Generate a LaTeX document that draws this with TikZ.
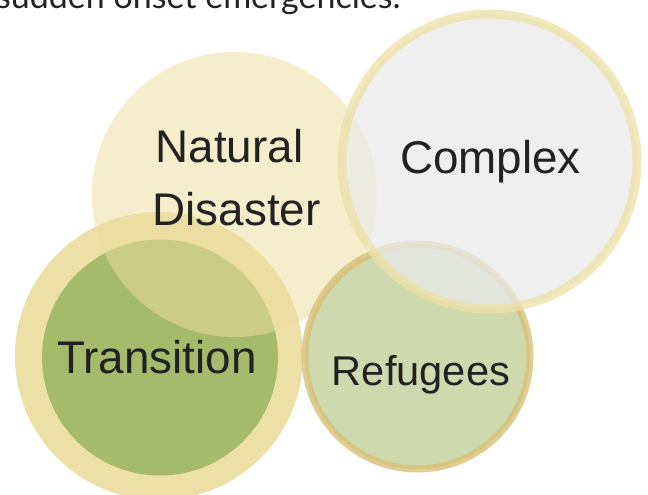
\documentclass[tikz,border=0pt]{standalone}
\usepackage{fontspec}
\setmainfont{Liberation Sans}
\newfontfamily\latofont{Lato}
\definecolor{ringgold}{HTML}{EDE0A6}
\definecolor{trgreen}{HTML}{A5BA6A}
\definecolor{ndbeige}{HTML}{ECDEA0}
\definecolor{refring}{HTML}{D8C075}
\definecolor{reffill}{HTML}{CED9AE}
\definecolor{cxfill}{HTML}{EAEAEA}
\definecolor{txt}{HTML}{222222}
\tikzset{
  lbl/.style={anchor=base, text=txt, inner sep=0pt, font=\fontsize{45.8}{55}\selectfont},
  smalllbl/.style={lbl, font=\fontsize{41.6}{50}\selectfont},
}
\begin{document}
\begin{tikzpicture}[x=1pt,y=-1pt]
\useasboundingbox (0,0) rectangle (648,495);
\clip (0,0) rectangle (648,495);
% heading (cut off)
\node[anchor=base west, inner sep=0pt, text=txt, font=\latofont\fontsize{34}{40}\selectfont] (head) at (-4,8.5) {sudden onset emergencies.};
% Transition
\fill[ringgold] (159,356) circle (144);
\fill[trgreen] (160,357.5) circle (118);
% Natural Disaster
\fill[ndbeige, fill opacity=0.55] (234.5,194.5) circle (142.5);
% Refugees
\draw[refring, draw opacity=0.8, line width=7, fill=reffill] (417.5,356.5) circle (112.5);
% Complex
\draw[ringgold, draw opacity=0.75, line width=9, fill=cxfill, fill opacity=0.75] (489.5,161.5) circle (147.5);
% labels
\node[lbl] (nat) at (229.5,162) {Natural};
\node[lbl] (dis) at (236.5,225) {Disaster};
\node[lbl] (cpx) at (490.5,173) {Complex};
\node[lbl] (tra) at (157,373) {Transition};
\node[smalllbl] (ref) at (421,385) {Refugees};
\end{tikzpicture}
\end{document}
